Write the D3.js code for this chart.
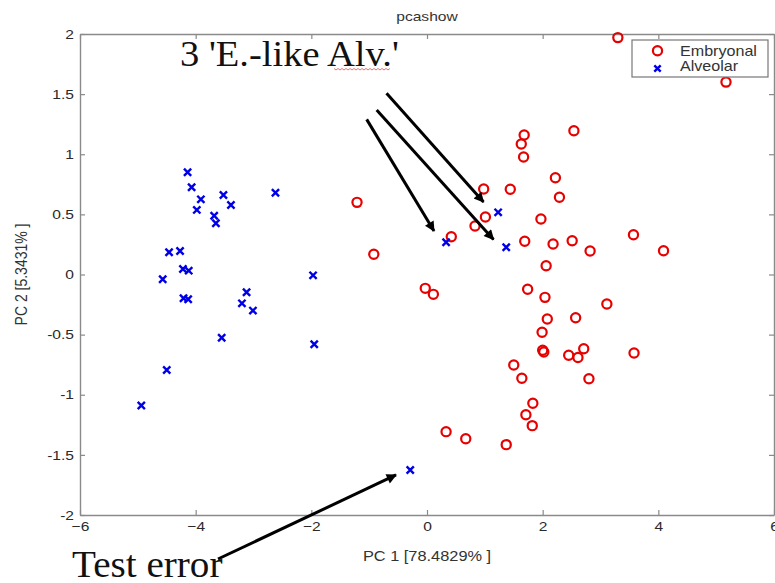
<!DOCTYPE html>
<html>
<head>
<meta charset="utf-8">
<script src="https://cdn.jsdelivr.net/npm/d3@7"></script>
<style>
  body { margin: 0; background: #fff; }
  svg { display: block; }
</style>
</head>
<body>
<div id="chart"></div>
<script>
// PC1 / PC2 scores
const embryonalX = [3.30, 5.17, 1.68, 1.63, 1.67, 2.54, 2.22, 2.29, 0.98, 1.44, 1.01, 0.83, 1.97, 0.42,
  1.69, 2.18, 2.51, 2.82, 3.57, 4.09, 2.06, -0.03, 0.11, -1.21, -0.92, 1.74, 2.04, 3.11, 2.08, 2.57,
  1.99, 2.00, 2.02, 2.45, 2.61, 2.71, 3.58, 1.50, 1.64, 2.80, 1.83, 1.71, 1.82, 0.33, 0.67, 1.37];
const embryonalY = [1.97, 1.60, 1.16, 1.085, 0.977, 1.196, 0.805, 0.642, 0.711, 0.709, 0.478, 0.403, 0.462, 0.314,
  0.276, 0.254, 0.281, 0.195, 0.331, 0.198, 0.073, -0.115, -0.165, 0.60, 0.168, -0.123, -0.19, -0.245, -0.37, -0.36,
  -0.48, -0.63, -0.645, -0.672, -0.69, -0.617, -0.653, -0.753, -0.863, -0.867, -1.071, -1.166, -1.257, -1.307, -1.366, -1.415];

const alveolarX = [-4.14, -4.07, -3.91, -3.98, -3.68, -3.65, -3.52, -3.39, -2.62, -4.46, -4.27, -4.57, -4.22, -4.12,
  -1.97, -3.12, -4.21, -4.13, -3.20, -3.01, -3.55, -1.95, -4.50, -4.94, 1.23, 0.33, 1.37, -0.29];
const alveolarY = [0.85, 0.725, 0.625, 0.537, 0.489, 0.426, 0.661, 0.578, 0.68, 0.185, 0.195, -0.04, 0.046, 0.032,
  -0.007, -0.148, -0.198, -0.206, -0.24, -0.30, -0.526, -0.58, -0.794, -1.09, 0.517, 0.268, 0.226, -1.626];

const xTicks = [-6, -4, -2, 0, 2, 4, 6];
const yTicks = [-2, -1.5, -1, -0.5, 0, 0.5, 1, 1.5, 2];

// annotation arrows in data units: [x1, y1, x2, y2]
const arrows = [
  [-0.70, 1.507, 0.977, 0.603],
  [-0.87, 1.368, 1.15, 0.291],
  [-1.043, 1.29, 0.121, 0.362],
  [-3.614, -2.366, -0.536, -1.667]
];

const width = 775, height = 583;
const margin = { top: 34, right: 1, bottom: 68, left: 80 };
const red = "#e60000", blue = "#0000e6", axisColor = "#8a8a8a";
const sans = "Liberation Sans, Arial, sans-serif";
const stretch = 1.2; // the picture is a bit wider than the original figure

const svg = d3.select("#chart").append("svg")
  .attr("width", width)
  .attr("height", height);

const x = d3.scaleLinear().domain([-6, 6]).range([margin.left, width - margin.right]);
const y = d3.scaleLinear().domain([-2, 2]).range([height - margin.bottom, margin.top]);

// axes, ticks pointing inward like matlab
const xAxis = svg.append("g")
  .attr("transform", `translate(0,${y(-2)})`)
  .call(d3.axisBottom(x).tickValues(xTicks).tickSizeInner(-5).tickSizeOuter(0).tickPadding(7).tickFormat(d3.format("d")));
const yAxis = svg.append("g")
  .attr("transform", `translate(${x(-6)},0)`)
  .call(d3.axisLeft(y).tickValues(yTicks).tickSizeInner(-5).tickSizeOuter(0).tickPadding(5).tickFormat(d => String(d)));
const xTop = svg.append("g")
  .attr("transform", `translate(0,${y(2)})`)
  .call(d3.axisTop(x).tickValues(xTicks).tickSizeInner(-5).tickSizeOuter(0).tickFormat(""));
const yRight = svg.append("g")
  .attr("transform", `translate(${x(6)},0)`)
  .call(d3.axisRight(y).tickValues(yTicks).tickSizeInner(-5).tickSizeOuter(0).tickFormat(""));

[xAxis, yAxis, xTop, yRight].forEach(g => {
  g.select(".domain").attr("stroke", axisColor).attr("stroke-width", 1.4);
  g.selectAll(".tick line").attr("stroke", axisColor).attr("stroke-width", 1.2);
  g.selectAll(".tick text")
    .attr("fill", "#2a2a2a")
    .attr("transform", `scale(${stretch},1)`)
    .style("font-family", sans)
    .style("font-size", "13px");
});

// title and axis labels
svg.append("text")
  .attr("transform", `translate(${(x(-6) + x(6)) / 2},21) scale(${stretch},1)`)
  .attr("text-anchor", "middle")
  .style("font-family", sans)
  .style("font-size", "13px")
  .attr("fill", "#333")
  .text("pcashow");

svg.append("text")
  .attr("transform", `translate(${(x(-6) + x(6)) / 2},561) scale(1.17,1)`)
  .attr("text-anchor", "middle")
  .style("font-family", sans)
  .style("font-size", "14px")
  .attr("fill", "#333")
  .text("PC 1 [78.4829% ]");

svg.append("text")
  .attr("transform", `translate(27,${(y(2) + y(-2)) / 2}) rotate(-90) scale(1,${stretch})`)
  .attr("text-anchor", "middle")
  .style("font-family", sans)
  .style("font-size", "14px")
  .attr("fill", "#333")
  .text("PC 2 [5.3431% ]");

// points
const embryonal = embryonalX.map((d, i) => ({ x: d, y: embryonalY[i] }));
const alveolar = alveolarX.map((d, i) => ({ x: d, y: alveolarY[i] }));

svg.append("g").selectAll("circle")
  .data(embryonal)
  .enter().append("circle")
  .attr("cx", d => x(d.x))
  .attr("cy", d => y(d.y))
  .attr("r", 4.6)
  .attr("fill", "none")
  .attr("stroke", red)
  .attr("stroke-width", 2.2);

const cross = s => `M${-s},${-s}L${s},${s}M${-s},${s}L${s},${-s}`;
svg.append("g").selectAll("path")
  .data(alveolar)
  .enter().append("path")
  .attr("transform", d => `translate(${x(d.x)},${y(d.y)})`)
  .attr("d", cross(3.6))
  .attr("stroke", blue)
  .attr("stroke-width", 2.4)
  .attr("fill", "none");

// legend
const legend = svg.append("g").attr("transform", "translate(632,40)");
legend.append("rect")
  .attr("width", 136).attr("height", 37)
  .attr("fill", "#fff")
  .attr("stroke", "#777")
  .attr("stroke-width", 1.2);
legend.append("circle")
  .attr("cx", 25.5).attr("cy", 10.7).attr("r", 4.6)
  .attr("fill", "none").attr("stroke", red).attr("stroke-width", 2.2);
legend.append("path")
  .attr("transform", "translate(25.5,28.5)")
  .attr("d", cross(3.2))
  .attr("stroke", blue).attr("stroke-width", 2.4);
legend.selectAll("text")
  .data(["Embryonal", "Alveolar"])
  .enter().append("text")
  .attr("transform", (d, i) => `translate(48,${15.5 + i * 15.5}) scale(1.15,1)`)
  .style("font-family", sans)
  .style("font-size", "14px")
  .attr("fill", "#333")
  .text(d => d);

// arrows
svg.append("defs").append("marker")
  .attr("id", "head")
  .attr("viewBox", "0 0 10 10")
  .attr("refX", 9).attr("refY", 5)
  .attr("markerWidth", 4.2).attr("markerHeight", 3.4)
  .attr("orient", "auto")
  .append("path")
  .attr("d", "M0,0L10,5L0,10z")
  .attr("fill", "#000");

svg.append("g").selectAll("line")
  .data(arrows)
  .enter().append("line")
  .attr("x1", d => x(d[0]))
  .attr("y1", d => y(d[1]))
  .attr("x2", d => x(d[2]))
  .attr("y2", d => y(d[3]))
  .attr("stroke", "#000")
  .attr("stroke-width", 3)
  .attr("marker-end", "url(#head)");

// annotation texts
svg.append("text")
  .attr("transform", "translate(180,66) scale(1.07,1)")
  .style("font-family", "Liberation Serif, Times New Roman, serif")
  .style("font-size", "36px")
  .attr("fill", "#111")
  .text("3 'E.-like Alv.'");

svg.append("path")
  .attr("d", d3.range(0, 58, 2).map((v, i) => `${i ? "L" : "M"}${334 + v},${69 + (i % 2 ? 1 : -0.5)}`).join(""))
  .attr("stroke", "#e05050")
  .attr("stroke-width", 0.8)
  .attr("fill", "none");

svg.append("text")
  .attr("transform", "translate(72,577) scale(1.03,1)")
  .style("font-family", "Liberation Serif, Times New Roman, serif")
  .style("font-size", "38px")
  .attr("fill", "#111")
  .text("Test error");
</script>
</body>
</html>
